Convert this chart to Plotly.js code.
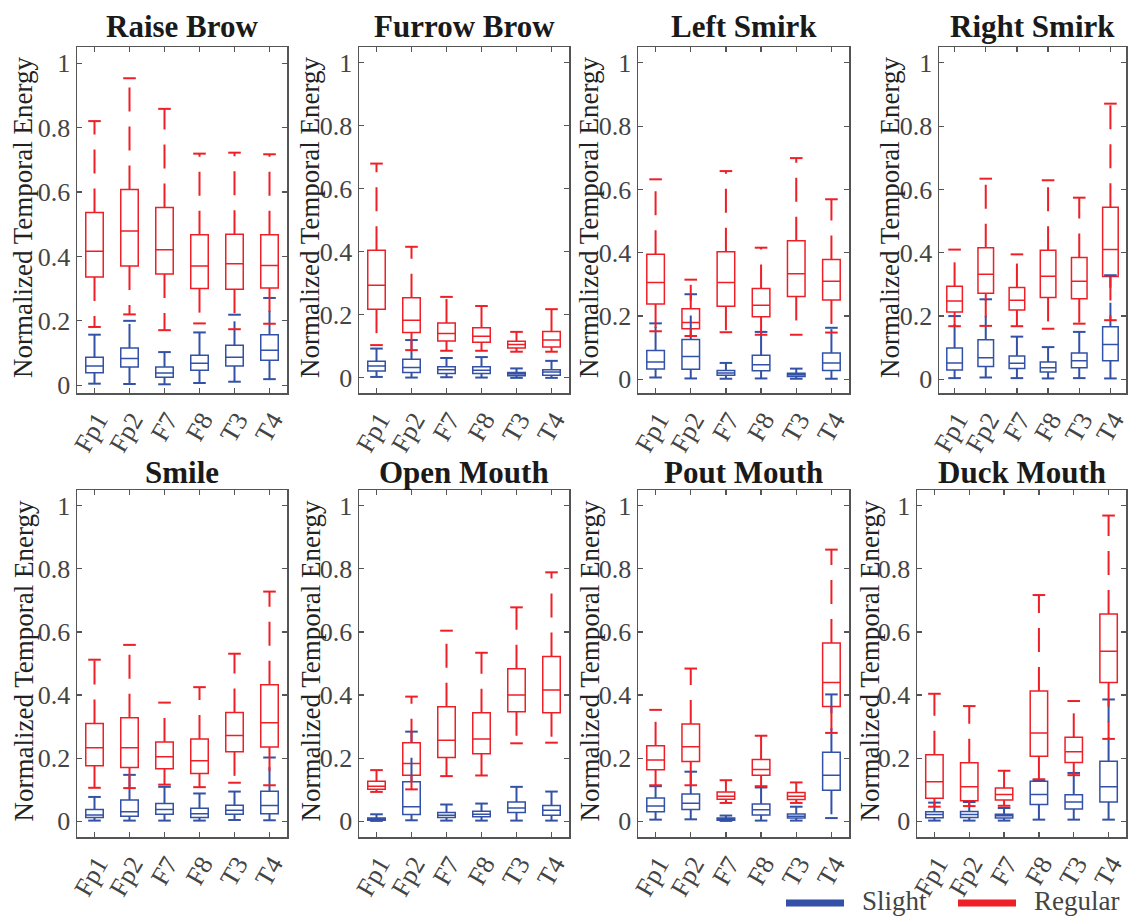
<!DOCTYPE html>
<html><head><meta charset="utf-8">
<script src="https://cdn.plot.ly/plotly-3.0.1.min.js"></script>
<style>html,body{margin:0;padding:0;background:#fff}</style>
</head><body><div id="chart" style="width:1131px;height:916px"></div>
<script>
// Each box: [lower whisker, Q1, median, Q3, upper whisker]
const categories = ['Fp1','Fp2','F7','F8','T3','T4'];
const panelTitles = ['Raise Brow','Furrow Brow','Left Smirk','Right Smirk','Smile','Open Mouth','Pout Mouth','Duck Mouth'];
const seriesNames = ['Slight','Regular'];
const yTitle = 'Normalized Temporal Energy';
const yTickVals = [0,0.2,0.4,0.6,0.8,1];
const yTickText = ['0','0.2','0.4','0.6','0.8','1'];

const raiseBrowSlight = [[0.005,0.039,0.060,0.087,0.157],[0.004,0.057,0.083,0.116,0.200],[0.003,0.025,0.038,0.057,0.103],[0.007,0.047,0.068,0.093,0.164],[0.011,0.060,0.087,0.124,0.219],[0.019,0.078,0.109,0.157,0.271]];
const raiseBrowRegular = [[0.181,0.336,0.416,0.536,0.820],[0.220,0.370,0.479,0.608,0.953],[0.171,0.345,0.421,0.552,0.858],[0.192,0.300,0.370,0.467,0.719],[0.174,0.298,0.377,0.469,0.722],[0.191,0.302,0.372,0.467,0.717]];
const furrowBrowSlight = [[0.003,0.022,0.038,0.053,0.093],[0.001,0.017,0.033,0.059,0.120],[0.002,0.014,0.026,0.035,0.063],[0.001,0.014,0.024,0.035,0.066],[0.000,0.007,0.012,0.017,0.030],[0.000,0.008,0.019,0.026,0.054]];
const furrowBrowRegular = [[0.104,0.218,0.294,0.405,0.680],[0.088,0.144,0.183,0.254,0.416],[0.086,0.117,0.141,0.174,0.257],[0.086,0.113,0.132,0.159,0.228],[0.083,0.095,0.106,0.116,0.146],[0.083,0.098,0.120,0.147,0.218]];
const leftSmirkSlight = [[0.006,0.033,0.055,0.091,0.177],[0.003,0.032,0.072,0.126,0.269],[0.002,0.013,0.020,0.028,0.052],[0.003,0.027,0.046,0.076,0.150],[0.002,0.009,0.015,0.019,0.034],[0.002,0.028,0.052,0.083,0.163]];
const leftSmirkRegular = [[0.152,0.238,0.306,0.395,0.632],[0.137,0.160,0.180,0.223,0.315],[0.149,0.231,0.306,0.403,0.658],[0.141,0.198,0.234,0.287,0.416],[0.141,0.262,0.334,0.438,0.699],[0.148,0.251,0.310,0.379,0.569]];
const rightSmirkSlight = [[0.004,0.030,0.052,0.099,0.200],[0.006,0.041,0.068,0.125,0.253],[0.004,0.034,0.051,0.074,0.135],[0.003,0.023,0.037,0.055,0.102],[0.004,0.037,0.059,0.083,0.150],[0.003,0.059,0.110,0.166,0.329]];
const rightSmirkRegular = [[0.168,0.213,0.248,0.294,0.410],[0.169,0.272,0.332,0.416,0.634],[0.168,0.219,0.250,0.290,0.395],[0.160,0.259,0.326,0.408,0.629],[0.176,0.255,0.310,0.385,0.574],[0.187,0.325,0.410,0.544,0.871]];
const smileSlight = [[0.002,0.012,0.020,0.037,0.077],[0.002,0.016,0.030,0.067,0.147],[0.002,0.022,0.037,0.056,0.109],[0.002,0.012,0.024,0.041,0.088],[0.004,0.022,0.035,0.051,0.094],[0.003,0.024,0.050,0.095,0.202]];
const smileRegular = [[0.106,0.176,0.233,0.310,0.512],[0.105,0.170,0.233,0.328,0.559],[0.116,0.166,0.204,0.251,0.376],[0.108,0.151,0.192,0.261,0.425],[0.122,0.220,0.272,0.345,0.531],[0.114,0.235,0.312,0.433,0.728]];
const openMouthSlight = [[0.001,0.003,0.006,0.010,0.022],[0.003,0.021,0.046,0.125,0.284],[0.002,0.012,0.019,0.028,0.053],[0.002,0.014,0.022,0.032,0.056],[0.002,0.028,0.042,0.061,0.109],[0.002,0.019,0.035,0.050,0.094]];
const openMouthRegular = [[0.093,0.101,0.111,0.127,0.162],[0.101,0.146,0.183,0.249,0.395],[0.143,0.202,0.257,0.363,0.604],[0.145,0.214,0.261,0.344,0.534],[0.247,0.347,0.400,0.483,0.678],[0.249,0.344,0.416,0.522,0.789]];
const poutMouthSlight = [[0.005,0.030,0.048,0.074,0.111],[0.006,0.037,0.057,0.086,0.157],[0.001,0.003,0.006,0.010,0.018],[0.002,0.020,0.036,0.055,0.107],[0.002,0.010,0.016,0.023,0.046],[0.010,0.098,0.146,0.219,0.402]];
const poutMouthRegular = [[0.114,0.163,0.194,0.239,0.353],[0.114,0.189,0.236,0.308,0.484],[0.058,0.070,0.079,0.093,0.130],[0.111,0.146,0.164,0.196,0.271],[0.058,0.069,0.079,0.091,0.123],[0.280,0.364,0.440,0.565,0.861]];
const duckMouthSlight = [[0.002,0.011,0.021,0.030,0.059],[0.002,0.012,0.021,0.031,0.061],[0.002,0.010,0.017,0.022,0.042],[0.005,0.053,0.085,0.127,0.130],[0.005,0.039,0.061,0.084,0.153],[0.005,0.061,0.109,0.190,0.386]];
const duckMouthRegular = [[0.046,0.073,0.125,0.211,0.404],[0.048,0.065,0.109,0.185,0.365],[0.049,0.067,0.085,0.105,0.160],[0.133,0.206,0.280,0.413,0.717],[0.146,0.186,0.220,0.266,0.381],[0.261,0.440,0.539,0.657,0.969]];

const panelData = [
  [raiseBrowSlight, raiseBrowRegular],
  [furrowBrowSlight, furrowBrowRegular],
  [leftSmirkSlight, leftSmirkRegular],
  [rightSmirkSlight, rightSmirkRegular],
  [smileSlight, smileRegular],
  [openMouthSlight, openMouthRegular],
  [poutMouthSlight, poutMouthRegular],
  [duckMouthSlight, duckMouthRegular]
];

// Layout geometry (pixels)
const W = 1131, H = 916;
const colors = ['#3351A6', '#EE1F27'];
const FONT = '"Liberation Serif", "Times New Roman", Times, serif';
const panelX = [[77,287],[359,569],[638,849],[939,1126],[77,287],[359,569],[638,849],[917,1126]];
const panelY = [[47,393],[47,393],[47,393],[47,393],[490,837],[490,837],[490,837],[490,837]];
const panelYRange = [[-0.024,1.05],[-0.048,1.05],[-0.043,1.05],[-0.043,1.05],[-0.05,1.05],[-0.05,1.05],[-0.05,1.05],[-0.05,1.05]];
const yTitleX = [23,310,589,890,23,310,589,869];
const titleY = [26,26,26,26,472,472,472,472];

const traces = [];
const layout = {
  width: W, height: H,
  margin: {l:0, r:0, t:0, b:0},
  paper_bgcolor: '#fff', plot_bgcolor: '#fff',
  showlegend: false,
  boxmode: 'overlay',
  annotations: [], shapes: []
};

panelData.forEach((pair, i) => {
  const s = i === 0 ? '' : String(i + 1);
  const xa = 'x' + s, ya = 'y' + s;
  pair.forEach((series, k) => {
    const col = colors[k];
    traces.push({
      type: 'box', xaxis: xa, yaxis: ya, name: seriesNames[k],
      x: categories,
      q1: series.map(d => d[1]), median: series.map(d => d[2]), q3: series.map(d => d[3]),
      lowerfence: series.map(d => d[1]), upperfence: series.map(d => d[3]),
      boxpoints: false, width: 0.5, whiskerwidth: 0,
      line: {color: col, width: 1.5}, fillcolor: 'rgba(0,0,0,0)',
      hoverinfo: 'skip', showlegend: false
    });
    const wx = [], wy = [];
    series.forEach((d, j) => {
      wx.push(categories[j], categories[j], null, categories[j], categories[j], null);
      wy.push(d[3], d[4], null, d[1], d[0], null);
    });
    traces.push({
      type: 'scatter', mode: 'lines', xaxis: xa, yaxis: ya,
      x: wx, y: wy, connectgaps: false,
      line: {color: col, width: 2, dash: '24px,15px'},
      hoverinfo: 'skip', showlegend: false
    });
    traces.push({
      type: 'scatter', mode: 'markers', xaxis: xa, yaxis: ya,
      x: categories.concat(categories),
      y: series.map(d => d[4]).concat(series.map(d => d[0])),
      marker: {symbol: 'line-ew', size: 9, color: col, line: {color: col, width: 2}},
      hoverinfo: 'skip', showlegend: false
    });
  });

  const axCommon = {
    showline: true, linecolor: '#555', linewidth: 1.5, mirror: 'allticks',
    ticks: 'inside', ticklen: 5, tickcolor: '#555', tickwidth: 1.2,
    showgrid: false, zeroline: false, fixedrange: true,
    tickfont: {family: FONT, size: 26, color: '#444'}
  };
  layout['xaxis' + s] = Object.assign({}, axCommon, {
    domain: [panelX[i][0] / W, panelX[i][1] / W], anchor: ya,
    type: 'category', categoryorder: 'array', categoryarray: categories,
    range: [-0.5, 5.5], tickangle: -60, ticklabelshift: 3, ticklabelstandoff: 0
  });
  layout['yaxis' + s] = Object.assign({}, axCommon, {
    domain: [1 - panelY[i][1] / H, 1 - panelY[i][0] / H], anchor: xa,
    range: panelYRange[i], tickvals: yTickVals, ticktext: yTickText
  });
  layout.annotations.push({
    xref: 'paper', yref: 'paper', x: (panelX[i][0] + panelX[i][1]) / 2 / W, y: 1 - titleY[i] / H,
    xanchor: 'center', yanchor: 'middle', showarrow: false,
    text: '<b>' + panelTitles[i] + '</b>', font: {family: FONT, size: 31, color: '#1a1a1a'}
  });
  layout.annotations.push({
    xref: 'paper', yref: 'paper', x: yTitleX[i] / W, y: 1 - ((panelY[i][0] + panelY[i][1]) / 2 - 3) / H,
    xanchor: 'center', yanchor: 'middle', showarrow: false, textangle: -90,
    text: yTitle, font: {family: FONT, size: 27, color: '#222'}
  });
});

// Legend
const legendItems = [[786, 844, 860], [958, 1016, 1032]];
legendItems.forEach((it, k) => {
  layout.shapes.push({type: 'line', xref: 'paper', yref: 'paper',
    x0: it[0] / W, x1: it[1] / W, y0: 1 - 903 / H, y1: 1 - 903 / H,
    line: {color: colors[k], width: 7}});
  layout.annotations.push({xref: 'paper', yref: 'paper', x: it[2] / W, y: 1 - 901 / H,
    xanchor: 'left', yanchor: 'middle', showarrow: false, text: seriesNames[k],
    font: {family: FONT, size: 27, color: '#444'}});
});

Plotly.newPlot('chart', traces, layout, {displayModeBar: false, staticPlot: true});
</script></body></html>
